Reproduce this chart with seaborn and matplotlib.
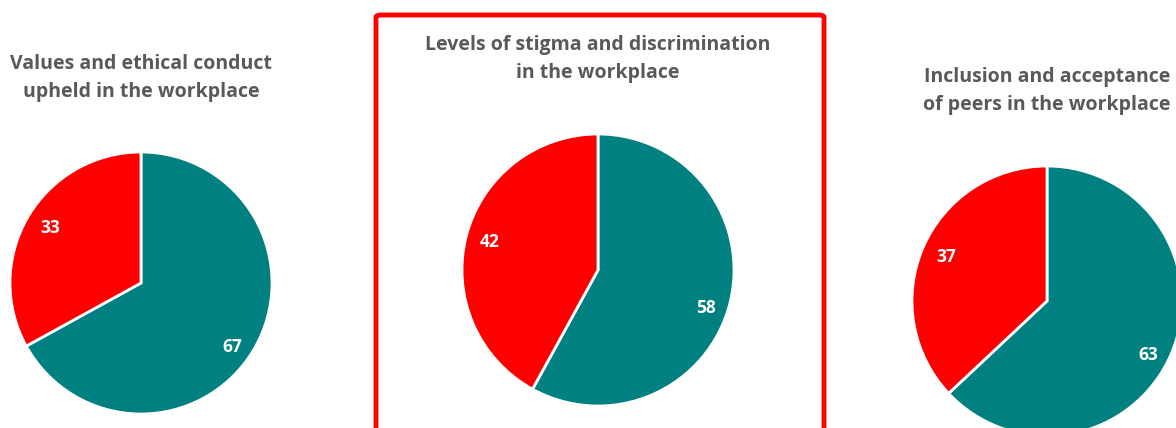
import matplotlib
matplotlib.use("Agg")
import numpy as np
import matplotlib.pyplot as plt
from matplotlib.patches import FancyBboxPatch
import seaborn as sns

# chart data
titles = ["Values and ethical conduct\nupheld in the workplace",
          "Levels of stigma and discrimination\nin the workplace",
          "Inclusion and acceptance\nof peers in the workplace"]
positive = [67, 58, 63]
negative = [33, 42, 37]

sns.set_theme(style="white")
plt.rcParams['font.family'] = ['Open Sans', 'DejaVu Sans']
pal = sns.color_palette(["#008080", "#FF0000"])

W, H = 1176, 428
fig = plt.figure(figsize=(W / 100, H / 100), dpi=100)

# pie centres / radii in pixels (from top-left), title centre y
layout = [(141, 283, 131, 78), (598, 270, 136, 59), (1047, 301, 135, 91)]

rot = np.deg2rad(-2.5)
for t, p, n, (cx, cy, r, ty) in zip(titles, positive, negative, layout):
    ax = fig.add_axes([(cx - r) / W, (H - cy - r) / H, 2 * r / W, 2 * r / H])
    wedges, texts = ax.pie([p, n], colors=pal, startangle=90, counterclock=False,
                           labels=[str(p), str(n)], labeldistance=0.83,
                           wedgeprops=dict(edgecolor='white', linewidth=2),
                           textprops=dict(color='white', fontsize=12.5,
                                          fontweight='bold', ha='center',
                                          va='center_baseline'))
    # nudge labels round a little, like the original
    for tx in texts:
        x, y = tx.get_position()
        tx.set_position((x * np.cos(rot) - y * np.sin(rot),
                         x * np.sin(rot) + y * np.cos(rot) - 0.02))
    ax.set_xlim(-1, 1)
    ax.set_ylim(-1, 1)
    ax.set_aspect('equal')
    ax.axis('off')
    fig.text(cx / W, 1 - ty / H, t, ha='center', va='center',
             fontsize=14, fontweight='bold', color='#595959',
             linespacing=1.5)

# highlight frame round the middle chart
frame = FancyBboxPatch((376 / W, -0.1), 448 / W, (H - 15) / H + 0.1,
                       boxstyle="round,pad=0,rounding_size=0.005",
                       transform=fig.transFigure, fill=False,
                       edgecolor='#FF0000', linewidth=3.5)
fig.patches.append(frame)

fig.savefig("out.png", dpi=100)
